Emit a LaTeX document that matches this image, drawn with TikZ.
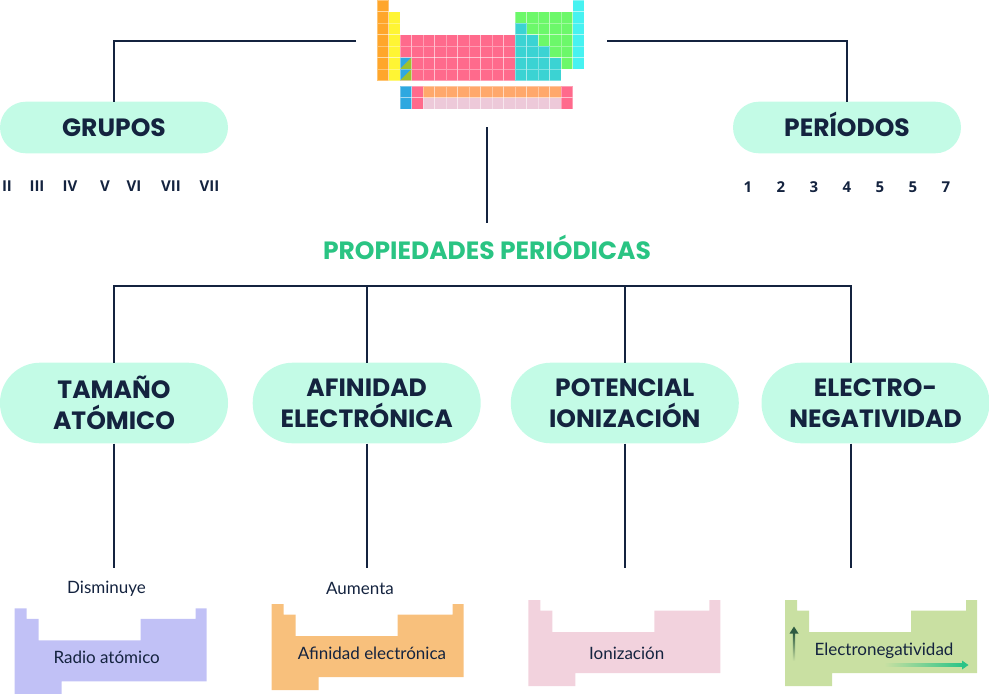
\documentclass[tikz,border=0pt]{standalone}
\usepackage{fontspec}
\setmainfont{Lato}
\newfontfamily\headfont{Poppins}
\newfontfamily\numfont{Open Sans}
\usepackage{xcolor}
\usepackage{tikz}
\usetikzlibrary{calc, positioning}

\definecolor{marino}{HTML}{14233F}
\definecolor{menta}{HTML}{C3FBE6}
\definecolor{verdetit}{HTML}{2AC483}
% colores de la tabla periodica
\definecolor{naranja}{HTML}{FFA62B}
\definecolor{amarillo}{HTML}{FFF534}
\definecolor{rosa}{HTML}{FF6A8C}
\definecolor{turquesa}{HTML}{3BD3D3}
\definecolor{verdeclaro}{HTML}{6CF86A}
\definecolor{cian}{HTML}{47F2F1}
\definecolor{azul}{HTML}{2EA8E0}
\definecolor{oliva}{HTML}{9DC12C}
\definecolor{naranjaf}{HTML}{FFA86B}
\definecolor{rosaf}{HTML}{EDC9D9}
% colores de las tablas de abajo
\definecolor{lila}{HTML}{C1C1F6}
\definecolor{melon}{HTML}{F8C07C}
\definecolor{rosapalo}{HTML}{F2D2DD}
\definecolor{pistacho}{HTML}{C9E0A2}
\definecolor{flechaosc}{HTML}{2E5B42}
\definecolor{flechaver}{HTML}{2BC487}

% una casilla: columna, fila, color
\newcommand{\celda}[3]{%
  \filldraw[fill=#3, draw=white, draw opacity=0.35, line width=0.6pt]
    ({377+(#1-1)*11.5},{(#2-1)*11.5}) rectangle ++(11.5,11.5);}
% casilla partida en diagonal (columna 3)
\newcommand{\celdadiag}[1]{%
  \fill[azul] ({377+2*11.5},{(#1-1)*11.5}) -- ++(11.5,0) -- ++(-11.5,11.5) -- cycle;
  \fill[oliva] ({377+3*11.5},{(#1-1)*11.5}) -- ++(0,11.5) -- ++(-11.5,0) -- cycle;
  \draw[white, opacity=0.35, line width=0.6pt]
    ({377+2*11.5},{(#1-1)*11.5}) rectangle ++(11.5,11.5);}
% silueta de tabla periodica: x, y, color
\newcommand{\mesa}[3]{%
  \fill[#3] (#1,#2) -- ++(12,0) -- ++(0,10.5) -- ++(12,0) -- ++(0,21.5)
    -- ++(102,0) -- ++(0,-21.5) -- ++(55,0) -- ++(0,-10.5) -- ++(11,0)
    -- ++(0,73) -- ++(-145,0) -- ++(0,13) -- ++(-47,0) -- cycle;}

\begin{document}
\begin{tikzpicture}[x=1pt, y=-1pt,
    linea/.style={draw=marino, line width=2pt},
    pill/.style={fill=menta, rounded corners=40pt, minimum width=228pt,
      minimum height=80.6pt, inner sep=0pt, text=marino, align=center,
      font=\headfont\bfseries\fontsize{25}{30.7}\selectfont},
    pillchica/.style={pill, rounded corners=25.8pt, minimum height=51.6pt,
      text height=17.5pt, text depth=0pt},
    titulo/.style={text=verdetit, anchor=base, outer ysep=8pt,
      font=\headfont\bfseries\fontsize{25}{30}\selectfont},
    romano/.style={text=marino, anchor=base,
      font=\numfont\bfseries\fontsize{15}{18}\selectfont},
    nota/.style={text=marino, anchor=base, font=\fontsize{17}{20}\selectfont}]
    \useasboundingbox (0,0) rectangle (989,694);

    % Tabla periodica de arriba
    \foreach \r in {1,...,7} {\celda{1}{\r}{naranja}}
    \foreach \r in {2,...,7} {\celda{2}{\r}{amarillo}}
    \foreach \r in {4,...,7} {
        \foreach \c in {3,...,12} {\celda{\c}{\r}{rosa}}
    }
    \celdadiag{6}
    \celdadiag{7}
    \foreach \r in {2,...,6} {
        \foreach \c in {13,...,17} {\celda{\c}{\r}{verdeclaro}}
    }
    \foreach \r/\n in {3/13, 4/14, 5/15, 6/16, 7/16} {
        \foreach \c in {13,...,\n} {\celda{\c}{\r}{turquesa}}
    }
    \foreach \r in {1,...,6} {\celda{18}{\r}{cian}}
    % lantanidos y actinidos
    \foreach \r/\col in {8.5/naranjaf, 9.5/rosaf} {
        \celda{3}{\r}{azul}
        \celda{4}{\r}{rosa}
        \foreach \c in {5,...,16} {\celda{\c}{\r}{\col}}
        \celda{17}{\r}{rosa}
    }
    \coordinate (tablaL) at (356,41);
    \coordinate (tablaR) at (607,41);
    \coordinate (tablaB) at (487,127);

    % Grupos y periodos
    \node[pillchica] (grupos) at (114,127.5) {GRUPOS};
    \node[pillchica] (periodos) at (847,127.5) {PERÍODOS};
    \draw[linea] (tablaL) -| (grupos.north);
    \draw[linea] (tablaR) -| (periodos.north);
    \foreach \x/\t [count=\i] in {7/II, 37/III, 70/IV, 105/V, 134/VI, 171/VII, 209.5/VII} {
        \node[romano] (g\i) at (\x,191.5) {\t};
    }
    \foreach \x/\t [count=\i] in {748/1, 781/2, 814/3, 847/4, 880/5, 913/5, 946/7} {
        \node[romano] (p\i) at (\x,192.5) {\t};
    }

    % Titulo
    \node[titulo] (titulo) at (487,259) {PROPIEDADES PERIÓDICAS};
    \draw[linea] (tablaB) -- (titulo.north);

    % Propiedades
    \node[pill] (tamano) at (114,403) {TAMAÑO\\ATÓMICO};
    \node[pill] (afinidad) at (366.7,403) {AFINIDAD\\ELECTRÓNICA};
    \node[pill] (potencial) at (624.8,403) {POTENCIAL\\IONIZACIÓN};
    \node[pill] (electro) at (875.5,403) {ELECTRO-\\NEGATIVIDAD};
    \coordinate (bus) at (487,286);
    \coordinate (fin) at (0,567.7);
    \coordinate (enN) at ([xshift=-24.5pt]electro.north);
    \coordinate (enS) at ([xshift=-24.5pt]electro.south);
    \foreach \n in {tamano, afinidad, potencial} {
        \draw[linea] (\n.north) |- (bus);
        \draw[linea] (\n.south) -- (\n.south |- fin);
    }
    \draw[linea] (enN) |- (bus);
    \draw[linea] (enS) -- (enS |- fin);

    % Tablas de abajo
    \mesa{14.7}{608.3}{lila}
    \mesa{271.7}{604}{melon}
    \mesa{528.3}{600}{rosapalo}
    \mesa{785}{600}{pistacho}
    \node[nota] (disminuye) at (106.5,593.5) {Disminuye};
    \node[nota] (aumenta) at (360,594) {Aumenta};
    \node[nota] (radio) at (106.7,663.3) {Radio atómico};
    \node[nota] (afin) at (372,659.3) {Afinidad electrónica};
    \node[nota] (ioniz) at (626.7,659.3) {Ionización};
    \node[nota] (electroneg) at (884,655) {Electronegatividad};

    % Flechas difuminadas
    \shade[bottom color=pistacho, top color=flechaosc] (792.8,661) rectangle (795.2,633);
    \fill[flechaosc] (789.5,633.5) -- (798.5,633.5) -- (794,626.5) -- cycle;
    \shade[left color=pistacho, right color=flechaver] (884,663.7) rectangle (962.5,666.3);
    \fill[flechaver] (962,660.5) -- (962,669.5) -- (968.5,665) -- cycle;
\end{tikzpicture}
\end{document}
